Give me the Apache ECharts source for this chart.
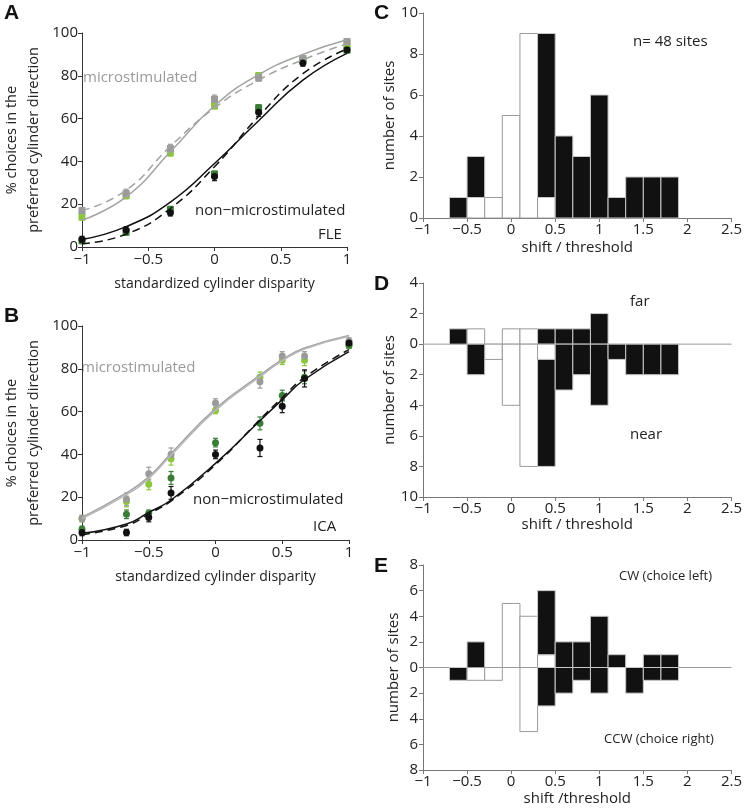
<!DOCTYPE html>
<html lang="en">
<head>
<meta charset="UTF-8">
<title>Microstimulation shifts</title>
<script src="https://cdn.jsdelivr.net/npm/echarts@6/dist/echarts.min.js"></script>
<style>
  html, body { margin: 0; padding: 0; background: #fff; }
  #main { width: 745px; height: 808px; }
</style>
</head>
<body>
<div id="main"></div>
<script>
// ---- panel A (FLE) ----
var aX = [-1, -0.667, -0.333, 0, 0.333, 0.667, 1];
var aMicroGray = [17, 25, 46, 69, 79, 88, 96];
var aMicroGrayErr = [1.5, 2, 2, 2, 1.5, 1.5, 1];
var aMicroGreen = [14, 24, 44, 66, 80, 88, 95];
var aMicroGreenErr = [1.5, 1.5, 1.5, 1.5, 1.5, 1.5, 1];
var aNonBlack = [3.5, 8, 16, 33, 63, 86, 92];
var aNonBlackErr = [1.5, 1.5, 1.5, 2, 2, 1.5, 1];
var aNonGreen = [3, 7, 17.5, 34, 65, 87, 92];
var aNonGreenErr = [1.5, 1.5, 1.5, 1.5, 1.5, 1.5, 1];
var aFitMicro = [12.5, 23.4, 44.5, 66, 80.5, 90, 96.8];
var aFitMicroDash = [17, 26.5, 47, 65, 78, 87.5, 95];
var aFitNon = [3.5, 9.5, 21, 39, 59, 78, 90.5];
var aFitNonDash = [1.5, 6, 18, 37.5, 61, 81, 92.5];

// ---- panel B (ICA) ----
var bX = [-1, -0.667, -0.5, -0.333, 0, 0.333, 0.5, 0.667, 1];
var bMicroGray = [10, 19, 31, 40, 64, 74, 86, 86, 93];
var bMicroGrayErr = [1.5, 3, 3, 3, 2, 3, 2, 2, 1.5];
var bMicroGreen = [10, 18, 26, 38, 60.5, 76, 84, 84, 91];
var bMicroGreenErr = [1.5, 2.5, 2.5, 3, 1.5, 2.5, 2, 2.5, 1.5];
var bNonGreen = [5, 12, 12.5, 29, 45.5, 54.5, 67.5, 76, 91];
var bNonGreenErr = [1.5, 2, 1.5, 3, 2, 3, 2.5, 3, 1.5];
var bNonBlack = [3.5, 3.5, 10.5, 22, 40, 43, 62.5, 75.5, 92];
var bNonBlackErr = [1.5, 1.5, 2, 3, 2, 4, 3, 4, 1.5];
var bFitMicroA = [10.6, 22, 29.5, 40.4, 61.4, 77, 84.3, 89.7, 95.6];
var bFitMicroB = [10, 21.2, 28.8, 39.6, 60.6, 76.3, 83.7, 89.2, 95.2];
var bFitNon = [3.1, 7.5, 12.9, 18.7, 35.8, 55.7, 65.6, 75, 88];
var bFitNonDash = [2.5, 6.8, 12.2, 18.2, 35.2, 56.3, 66.5, 76, 89];

// ---- histograms C, D, E (bin width 0.2) ----
var binCenters = [-0.6, -0.4, -0.2, 0, 0.2, 0.4, 0.6, 0.8, 1.0, 1.2, 1.4, 1.6, 1.8, 2.0];
var cWhite    = [0, 1, 1, 5, 9, 1, 0, 0, 0, 0, 0, 0, 0, 0];
var cBlack    = [1, 2, 0, 0, 0, 8, 4, 3, 6, 1, 2, 2, 2, 0];
var farWhite  = [0, 1, 0, 1, 1, 0, 0, 0, 0, 0, 0, 0, 0, 0];
var farBlack  = [1, 0, 0, 0, 0, 1, 1, 1, 2, 0, 0, 0, 0, 0];
var nearWhite = [0, 0, 1, 4, 8, 1, 0, 0, 0, 0, 0, 0, 0, 0];
var nearBlack = [0, 2, 0, 0, 0, 7, 3, 2, 4, 1, 2, 2, 2, 0];
var cwWhite   = [0, 0, 0, 5, 4, 1, 0, 0, 0, 0, 0, 0, 0, 0];
var cwBlack   = [0, 2, 0, 0, 0, 5, 2, 2, 4, 1, 0, 1, 1, 0];
var ccwWhite  = [0, 1, 1, 0, 5, 0, 0, 0, 0, 0, 0, 0, 0, 0];
var ccwBlack  = [1, 0, 0, 0, 0, 3, 2, 1, 2, 0, 2, 1, 1, 0];
var binW = 0.2;

var FONT = 'Open Sans';
var GRAY = '#a3a3a3', GRAYPT = '#9a9a9a', LGREEN = '#8cc63e', DGREEN = '#3b7d37', BLACK = '#111';

function zip(xs, ys) { return xs.map(function (x, i) { return [x, ys[i]]; }); }
function errData(xs, ys, es) { return xs.map(function (x, i) { return [x, ys[i] - es[i], ys[i] + es[i]]; }); }
function minus(v) { return v < 0 ? '\u2212' + Math.abs(v) : String(v); }

// stack white boxes next to zero, black beyond; sign = +1 up, -1 down
function histData(white, black, sign) {
  var out = [];
  binCenters.forEach(function (c, i) {
    if (white[i] > 0) out.push([c, 0, sign * white[i], 0]);
    if (black[i] > 0) out.push([c, sign * white[i], sign * (white[i] + black[i]), 1]);
  });
  return out;
}

function renderHist(params, api) {
  var x = api.value(0), y0 = api.value(1), y1 = api.value(2), k = api.value(3);
  var p0 = api.coord([x - binW / 2, y0]);
  var p1 = api.coord([x + binW / 2, y1]);
  return {
    type: 'rect',
    shape: { x: p0[0], y: Math.min(p0[1], p1[1]), width: p1[0] - p0[0], height: Math.abs(p1[1] - p0[1]) },
    style: { fill: k ? BLACK : '#fff', stroke: k ? '#c8c8c8' : '#9a9a9a', lineWidth: 1 }
  };
}

function renderErr(params, api) {
  var x = api.value(0);
  var lo = api.coord([x, api.value(1)]);
  var hi = api.coord([x, api.value(2)]);
  var c = api.visual('color');
  var st = { stroke: c, lineWidth: 1.2 };
  return { type: 'group', children: [
    { type: 'line', shape: { x1: lo[0], y1: lo[1], x2: hi[0], y2: hi[1] }, style: st },
    { type: 'line', shape: { x1: lo[0] - 2.5, y1: lo[1], x2: lo[0] + 2.5, y2: lo[1] }, style: st },
    { type: 'line', shape: { x1: hi[0] - 2.5, y1: hi[1], x2: hi[0] + 2.5, y2: hi[1] }, style: st }
  ]};
}

var axLine = { show: true, onZero: false, lineStyle: { color: '#333', width: 1 } };
var axLineGray = { show: true, onZero: false, lineStyle: { color: '#777', width: 1 } };
var lbl = { color: '#222', fontSize: 15, fontFamily: FONT };
var nameStyle = { color: '#222', fontSize: 14, fontFamily: FONT };

function psyX(idx) {
  return { gridIndex: idx, type: 'value', min: -1, max: 1, interval: 0.5,
    axisLine: axLine, axisTick: { show: true, length: 4, lineStyle: { color: '#333' } },
    axisLabel: Object.assign({ margin: 5, formatter: minus }, lbl), splitLine: { show: false },
    name: 'standardized cylinder disparity', nameLocation: 'middle', nameGap: 30, nameTextStyle: nameStyle };
}
function psyY(idx) {
  return { gridIndex: idx, type: 'value', min: 0, max: 100, interval: 20,
    axisLine: axLine, axisTick: { show: true, length: 4, lineStyle: { color: '#333' } },
    axisLabel: Object.assign({ margin: 4 }, lbl), splitLine: { show: false },
    name: '% choices in the\npreferred cylinder direction', nameLocation: 'middle', nameGap: 37,
    nameTextStyle: Object.assign({ lineHeight: 22 }, nameStyle, { fontSize: 14.5 }) };
}
function histX(idx, name, gap) {
  return { gridIndex: idx, type: 'value', min: -1, max: 2.5, interval: 0.5,
    axisLine: axLineGray, axisTick: { show: true, length: 4, lineStyle: { color: '#777' } },
    axisLabel: Object.assign({ margin: 4, formatter: minus }, lbl), splitLine: { show: false },
    name: name, nameLocation: 'middle', nameGap: gap, nameTextStyle: Object.assign({}, nameStyle, { fontSize: 15 }) };
}
function histY(idx, min, max) {
  return { gridIndex: idx, type: 'value', min: min, max: max, interval: 2,
    axisLine: axLineGray, axisTick: { show: true, length: 4, lineStyle: { color: '#777' } },
    axisLabel: Object.assign({ margin: 5, formatter: function (v) { return String(Math.abs(v)); } }, lbl),
    splitLine: { show: false },
    name: 'number of sites', nameLocation: 'middle', nameGap: 22, nameTextStyle: Object.assign({}, nameStyle, { fontSize: 15 }) };
}

function fit(xi, yi, xs, ys, color, dashed, w) {
  return { type: 'line', xAxisIndex: xi, yAxisIndex: yi, data: zip(xs, ys), smooth: 0.5,
    showSymbol: false, silent: true,
    lineStyle: { color: color, width: w || 1.5, type: dashed ? [8, 5] : 'solid' } };
}
function pts(xi, yi, xs, ys, color, sym) {
  return { type: 'scatter', xAxisIndex: xi, yAxisIndex: yi, data: zip(xs, ys), symbol: sym,
    symbolSize: 7, itemStyle: { color: color, opacity: 1 } };
}
function errs(xi, yi, xs, ys, es, color) {
  return { type: 'custom', xAxisIndex: xi, yAxisIndex: yi, renderItem: renderErr,
    data: errData(xs, ys, es), itemStyle: { color: color }, encode: { x: 0, y: [1, 2] } };
}
function hist(xi, data) {
  return { type: 'custom', xAxisIndex: xi, yAxisIndex: xi, renderItem: renderHist,
    data: data, encode: { x: 0, y: [1, 2] }, z: 3 };
}
function zeroLine(xi) {
  return { type: 'line', xAxisIndex: xi, yAxisIndex: xi, data: [[-1, 0], [2.5, 0]],
    showSymbol: false, silent: true, lineStyle: { color: '#999', width: 1 }, z: 2 };
}

function txt(x, y, s, opts) {
  return { type: 'text', left: x, top: y, style: Object.assign({ text: s, fill: '#222', fontSize: 15, fontFamily: FONT }, opts || {}) };
}
function letter(x, y, s) {
  return { type: 'text', left: x, top: y, style: { text: s, fill: '#111', fontSize: 21, fontWeight: 'bold', fontFamily: 'Liberation Sans' } };
}

var chart = echarts.init(document.getElementById('main'));
chart.setOption({
  animation: false,
  backgroundColor: '#fff',
  grid: [
    { left: 68, top: 33, width: 279, height: 214 },
    { left: 70, top: 326, width: 279, height: 214 },
    { left: 423, top: 13, width: 311, height: 205 },
    { left: 423, top: 283, width: 311, height: 214 },
    { left: 423, top: 565, width: 311, height: 205 }
  ],
  xAxis: [psyX(0), psyX(1), histX(2, 'shift / threshold', 22), histX(3, 'shift / threshold', 18), histX(4, 'shift /threshold', 21)],
  yAxis: [psyY(0), psyY(1), histY(2, 0, 10), histY(3, -10, 4), histY(4, -8, 8)],
  graphic: [
    letter(4, 3, 'A'), letter(4, 306, 'B'), letter(374, 3, 'C'), letter(374, 274, 'D'), letter(374, 556, 'E'),
    txt(83, 70, 'microstimulated', { fill: '#9a9a9a' }),
    txt(195, 203, 'non\u2212microstimulated'),
    txt(318, 227, 'FLE'),
    txt(81, 360, 'microstimulated', { fill: '#9a9a9a' }),
    txt(193, 492, 'non\u2212microstimulated'),
    txt(313, 519, 'ICA'),
    txt(633, 34, 'n= 48 sites'),
    txt(630, 294, 'far'),
    txt(630, 427, 'near'),
    txt(619, 570, 'CW (choice left)', { fontSize: 13 }),
    txt(604, 733, 'CCW (choice right)', { fontSize: 13 })
  ],
  series: [
    // panel A
    fit(0, 0, aX, aFitMicro, GRAY, false),
    fit(0, 0, aX, aFitMicroDash, GRAY, true),
    fit(0, 0, aX, aFitNon, BLACK, false),
    fit(0, 0, aX, aFitNonDash, BLACK, true),
    errs(0, 0, aX, aMicroGreen, aMicroGreenErr, LGREEN),
    pts(0, 0, aX, aMicroGreen, LGREEN, 'rect'),
    errs(0, 0, aX, aNonGreen, aNonGreenErr, DGREEN),
    pts(0, 0, aX, aNonGreen, DGREEN, 'rect'),
    errs(0, 0, aX, aMicroGray, aMicroGrayErr, GRAYPT),
    pts(0, 0, aX, aMicroGray, GRAYPT, 'rect'),
    errs(0, 0, aX, aNonBlack, aNonBlackErr, BLACK),
    pts(0, 0, aX, aNonBlack, BLACK, 'circle'),
    // panel B
    fit(1, 1, bX, bFitMicroA, GRAY, false),
    fit(1, 1, bX, bFitMicroB, '#b8b8b8', false),
    fit(1, 1, bX, bFitNon, BLACK, false),
    fit(1, 1, bX, bFitNonDash, BLACK, true),
    errs(1, 1, bX, bMicroGreen, bMicroGreenErr, LGREEN),
    pts(1, 1, bX, bMicroGreen, LGREEN, 'circle'),
    errs(1, 1, bX, bNonGreen, bNonGreenErr, DGREEN),
    pts(1, 1, bX, bNonGreen, DGREEN, 'circle'),
    errs(1, 1, bX, bMicroGray, bMicroGrayErr, GRAYPT),
    pts(1, 1, bX, bMicroGray, GRAYPT, 'circle'),
    errs(1, 1, bX, bNonBlack, bNonBlackErr, BLACK),
    pts(1, 1, bX, bNonBlack, BLACK, 'circle'),
    // panel C
    hist(2, histData(cWhite, cBlack, 1)),
    // panel D
    zeroLine(3),
    hist(3, histData(farWhite, farBlack, 1).concat(histData(nearWhite, nearBlack, -1))),
    // panel E
    zeroLine(4),
    hist(4, histData(cwWhite, cwBlack, 1).concat(histData(ccwWhite, ccwBlack, -1)))
  ]
});
</script>
</body>
</html>
